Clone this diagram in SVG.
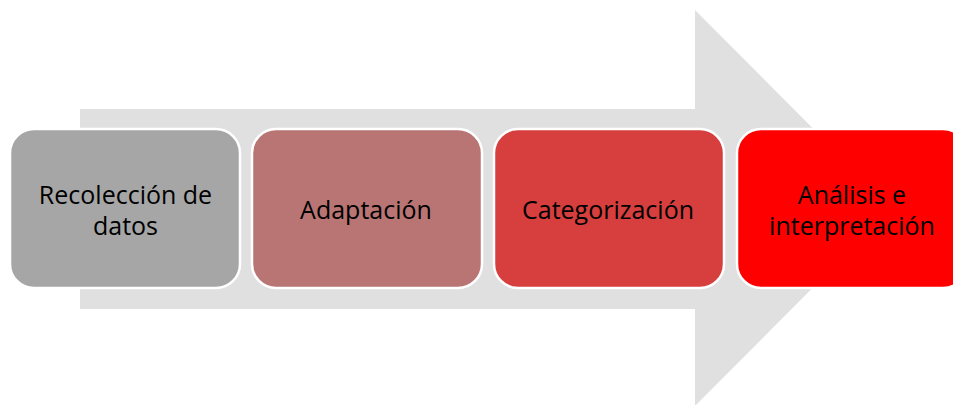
<svg xmlns="http://www.w3.org/2000/svg" width="953" height="405" viewBox="0 0 953 405">
<style>
.box{stroke:#ffffff;stroke-width:2.5}
.t{font-family:"Open Sans","Liberation Sans",sans-serif;font-size:25px;fill:#000;text-anchor:middle}
</style>
<rect width="953" height="405" fill="#ffffff"/>
<g id="arrow"><polygon points="80,109 695,109 695,10 892,208 695,406 695,309 80,309" fill="#e0e0e0"/></g>
<g id="n1"><rect class="box" x="10" y="129" width="230" height="159" rx="24" fill="#a6a6a6"/><text class="t" x="125.5" y="204">Recolección de</text><text class="t" x="125.5" y="235">datos</text></g>
<g id="n2"><rect class="box" x="252" y="129" width="230" height="159" rx="24" fill="#b87574"/><text class="t" x="366" y="219">Adaptación</text></g>
<g id="n3"><rect class="box" x="494" y="129" width="230" height="159" rx="24" fill="#d73e3e"/><text class="t" x="608" y="219">Categorización</text></g>
<g id="n4"><rect class="box" x="737" y="129" width="230" height="159" rx="24" fill="#ff0000"/><text class="t" x="852" y="204">Análisis e</text><text class="t" x="852" y="235">interpretación</text></g>
<g id="connectors"></g>
</svg>
